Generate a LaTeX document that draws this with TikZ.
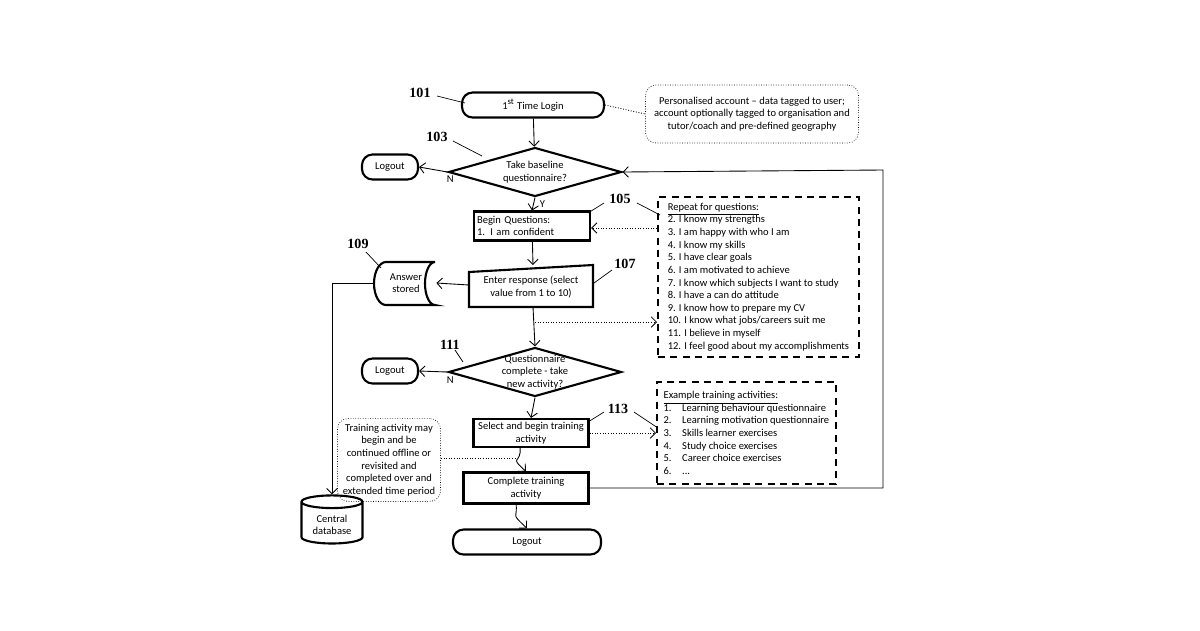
\documentclass[tikz,border=0pt]{standalone}
\usepackage{fontspec}
\setmainfont{Carlito}
\newfontfamily\numfont{Liberation Serif}
\usetikzlibrary{arrows.meta,shapes.geometric,positioning}

\begin{document}
\begin{tikzpicture}[x=0.02cm, y=-0.02cm, >={Straight Barb[length=3pt]},
    every node/.style={font=\fontsize{6}{7.2}\selectfont},
    box/.style={draw, line width=1.2pt, inner sep=1pt},
    term/.style={box, rounded corners=6pt, minimum height=0.5cm},
    dec/.style={draw, line width=1.2pt, diamond, aspect=3.6, inner sep=-2pt, align=center, minimum width=3.46cm, minimum height=0.98cm},
    ref/.style={font=\numfont\bfseries\fontsize{8}{9}\selectfont},
    lst/.style={draw, dashed, line width=1.1pt, dash pattern=on 4pt off 3pt, align=left, inner sep=3pt, anchor=north west},
    note/.style={draw, densely dotted, rounded corners=6pt, align=center},
    conn/.style={->, line width=0.5pt},
    dots/.style={densely dotted, line width=0.5pt}]

  %% Background
  \useasboundingbox (0,0) rectangle (1200,630);

  % Main flow
  \node[term, minimum width=2.84cm] (login) at (533,105) {1\textsuperscript{st} Time Login};
  \node[note, minimum width=4.26cm, minimum height=1.16cm] (acct) at (752,114)
    {Personalised account -- data tagged to user;\\account optionally tagged to organisation and\\tutor/coach and pre-defined geography};
  \node[dec] (base) at (535,172) {Take baseline\\questionnaire?};
  \node[term, minimum width=1.12cm] (out1) at (390,167) {Logout};
  \node[box, minimum width=2.32cm, minimum height=0.58cm, align=left, text width=2.2cm] (begin) at (532,226) {Begin Questions:\\1. I am confident};
  \node[minimum width=2.48cm, minimum height=0.8cm, align=center] (resp) at (531,287) {Enter response (select\\value from 1 to 10)};
  \draw[line width=1.2pt] (469,272) -- (593,265) -- (593,307) -- (469,307) -- cycle;
  \node[minimum width=1.2cm, minimum height=0.86cm, align=center] (store) at (406,283) {Answer\\stored};
  \draw[line width=1.2pt] (435,262) -- (386,262) arc[start angle=90, end angle=270, x radius=12, y radius=-21.5]
    -- (435,305) arc[start angle=270, end angle=90, x radius=10, y radius=-21.5];
  \node[draw, line width=1.2pt, cylinder, shape border rotate=90, aspect=0.25, minimum width=1.22cm, minimum height=0.82cm, align=center] (db) at (332,525) {Central\\database};
  \node[dec, inner sep=-5pt] (done) at (535,372) {Questionnaire\\complete - take\\new activity?};
  \node[term, minimum width=1.12cm] (out2) at (390,371) {Logout};
  \node[box, minimum width=2.3cm, minimum height=0.56cm, align=center] (sel) at (531,433) {Select and begin training\\activity};
  \node[box, minimum width=2.5cm, minimum height=0.62cm, align=center] (cmp) at (526,488) {Complete training\\activity};
  \node[term, minimum width=2.96cm] (out3) at (527,542) {Logout};
  \node[note, minimum width=1.96cm, minimum height=1.62cm, inner sep=3pt] (off) at (389,460)
    {Training activity may\\begin and be\\continued offline or\\revisited and\\completed over and\\extended time period};

  % Lists
  \node[lst, minimum width=4.02cm, minimum height=3.2cm] (qs) at (657,196)
    {\underline{Repeat for questions:}\\2. I know  my strengths\\3. I am happy with who I am\\4. I know  my skills\\5. I have clear goals\\6. I am motivated to achieve\\7. I know  which subjects I want to study\\8. I have a can do attitude\\9. I know  how to prepare my CV\\10. I know what jobs/careers suit me\\11. I believe in myself\\12. I feel good about my accomplishments};
  \node[lst, minimum width=3.58cm, minimum height=2.04cm] (acts) at (656,381)
    {\underline{Example training activities:}\\1.\quad Learning behaviour questionnaire\\2.\quad Learning motivation questionnaire\\3.\quad Skills learner exercises\\4.\quad Study choice exercises\\5.\quad Career choice exercises\\6.\quad ...};

  % Connectors
  \draw[conn] (login) -- (base);
  \draw[conn] (base.west) -- (out1.east) node[pos=0.2, below right=-1pt] {N};
  \draw[conn] (base.south) -- (begin.north) node[midway, right] {Y};
  \draw[conn] (begin) -- (533,265);
  \draw[conn] (469,285) -- (store.east);
  \draw[conn] (374,283) -| (db.north);
  \draw[conn] (533,307) -- (done.north);
  \draw[conn] (done.west) -- (out2.east) node[pos=0.2, below right=-1pt] {N};
  \draw[conn] (done.south) -- (sel.north);
  \draw[conn] (520,447) .. controls (522,465) and (508,455) .. (cmp.north);
  \draw[conn] (516,503) .. controls (518,520) and (510,512) .. (out3.north);
  \draw[conn] (cmp.east) -| (883,170) -- (base.east);

  % Dotted links
  \draw[dots] (login.east) -- (acct.west);
  \draw[dots, ->] (657,228) -- (begin.east |- 0,228);
  \draw[dots, ->] (535,322) -- (657,322);
  \draw[dots, ->] (sel.east) -- (656,433);
  \draw[dots] (off.east |- 0,458) -- (516,458);

  % Reference numerals
  \node[ref] (r101) at (420,93) {101};
  \draw (437,96) -- (465,103);
  \node[ref] (r103) at (437,137) {103};
  \draw (453,141) -- (482,156);
  \node[ref] (r105) at (620,199) {105};
  \draw (604,203) -- (588,213);
  \draw (637,203) -- (660,215);
  \node[ref] (r107) at (625,264) {107};
  \draw (612,270) -- (594,283);
  \node[ref] (r109) at (358,244) {109};
  \draw (366,252) -- (381,268);
  \node[ref] (r111) at (450,345) {111};
  \draw (455,350) -- (463,362);
  \node[ref] (r113) at (618,409) {113};
  \draw (604,412) -- (588,422);
  \draw (634,412) -- (658,428);

\end{tikzpicture}
\end{document}
